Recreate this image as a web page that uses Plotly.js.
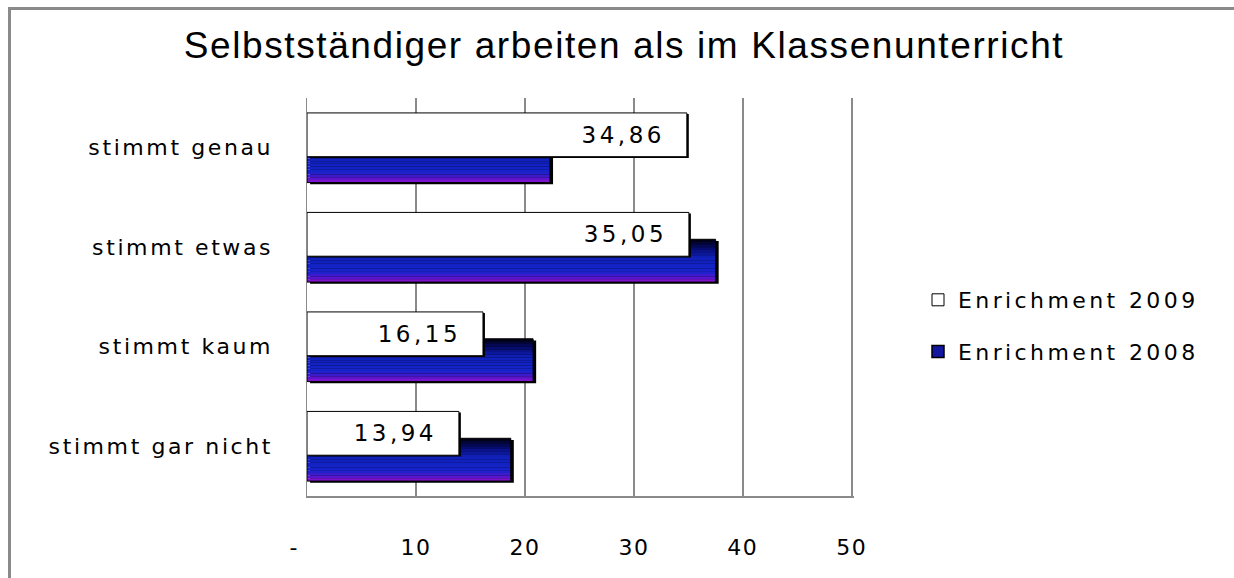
<!DOCTYPE html>
<html>
<head>
<meta charset="utf-8">
<script src="https://cdn.plot.ly/plotly-3.0.1.min.js"></script>
<style>
  html, body { margin: 0; padding: 0; background: #fff; }
  #wrap { position: relative; width: 1234px; height: 578px; overflow: hidden; }
  #chart { position: absolute; left: 0; top: 0; width: 1234px; height: 578px; }
  #frame { position: absolute; left: 8px; top: 7px; width: 1300px; height: 700px;
           border-left: 3px solid #8a8a8a; border-top: 3px solid #8a8a8a; pointer-events: none; }
  .gtitle { letter-spacing: 1.6px; }
  .ytick text { letter-spacing: 2.6px; }
  .legendtext { letter-spacing: 3.4px; }
  .xtick text { letter-spacing: 1.5px; }
  text.bartext { letter-spacing: 3.5px; }
</style>
</head>
<body>
<div id="wrap">
  <div id="chart"></div>
  <div id="frame"></div>
</div>
<script>
// ---- data ----
const categories = ["stimmt genau", "stimmt etwas", "stimmt kaum", "stimmt gar nicht"];
const values2009 = [34.86, 35.05, 16.15, 13.94];
const labels2009 = ["34,86", "35,05", "16,15", "13,94"];
const values2008 = [22.3, 37.5, 20.75, 18.7];
const seriesNames = ["Enrichment 2009", "Enrichment 2008"];
const tickValues = [0, 10, 20, 30, 40, 50];
const tickLabels = ["-\u00a0\u00a0\u00a0", "10", "20", "30", "40", "50"];

// ---- styles ----
const FONT = "DejaVu Sans, Verdana, sans-serif";
const SHADOW_X = 0.28;   // in x units (~3px)
const blueTop = 0.08, blueW = 0.43;       // relative to category centre (y up)
const whiteTop = 0.35, whiteW = 0.44;

function lerp(a, b, t) { return Math.round(a + (b - a) * t); }
function hex(c) { return [parseInt(c.slice(1,3),16), parseInt(c.slice(3,5),16), parseInt(c.slice(5,7),16)]; }
const stops = [[0, "#000008"], [0.2, "#050a68"], [0.42, "#1020b8"], [0.75, "#1424cc"], [0.88, "#4a18cc"], [1, "#8c10cc"]];
function gradColor(t) {
  for (let i = 0; i < stops.length - 1; i++) {
    if (t >= stops[i][0] && t <= stops[i+1][0]) {
      const u = (t - stops[i][0]) / (stops[i+1][0] - stops[i][0]);
      const a = hex(stops[i][1]), b = hex(stops[i+1][1]);
      return `rgb(${lerp(a[0],b[0],u)},${lerp(a[1],b[1],u)},${lerp(a[2],b[2],u)})`;
    }
  }
  return stops[stops.length-1][1];
}

const traces = [];
// shadow for 2008
traces.push({
  type: "bar", orientation: "h", y: categories, x: values2008, base: SHADOW_X,
  offset: blueTop - blueW - 0.018, width: blueW,
  marker: { color: "#000000", line: { width: 0 } },
  showlegend: false, hoverinfo: "skip"
});
// gradient strips for 2008
const N = 16;
const h = blueW / N;
for (let i = 0; i < N; i++) {
  traces.push({
    type: "bar", orientation: "h", y: categories, x: values2008,
    offset: blueTop - (i + 1) * h, width: h * 1.02,
    marker: { color: gradColor((i + 0.5) / N), line: { width: 0 } },
    showlegend: false, hoverinfo: "skip"
  });
}
// outline for 2008
traces.push({
  type: "bar", orientation: "h", y: categories, x: values2008, name: seriesNames[1],
  offset: blueTop - blueW, width: blueW,
  marker: { color: "rgba(0,0,0,0)", line: { color: "#000000", width: 1 } },
  showlegend: false, hovertemplate: "%{y}: %{x}<extra>" + seriesNames[1] + "</extra>"
});
// shadow for 2009
traces.push({
  type: "bar", orientation: "h", y: categories, x: values2009, base: 0.18,
  offset: whiteTop - whiteW - 0.012, width: whiteW,
  marker: { color: "#000000", line: { width: 0 } },
  showlegend: false, hoverinfo: "skip"
});
// 2009 white bars
traces.push({
  type: "bar", orientation: "h", y: categories, x: values2009, name: seriesNames[0],
  offset: whiteTop - whiteW, width: whiteW,
  text: labels2009.map(s => s + "\u00a0\u2009"),
  textposition: "inside", insidetextanchor: "end", constraintext: "none",
  textfont: { family: FONT, size: 23, color: "#000000" },
  marker: { color: "#ffffff", line: { color: "#000000", width: 1 } },
  showlegend: true, legendgroup: "a", legendrank: 1,
  hovertemplate: "%{y}: %{text}<extra>" + seriesNames[0] + "</extra>"
});
// legend swatch for 2008 (no drawn bars)
traces.push({
  type: "bar", orientation: "h", y: [categories[0]], x: [null], name: seriesNames[1],
  legendgroup: "b", legendrank: 2, showlegend: true, hoverinfo: "skip",
  marker: { color: "#1418a0", line: { color: "#000000", width: 1.5 } }
});

const layout = {
  width: 1234, height: 578,
  margin: { l: 307, r: 380, t: 98, b: 82, pad: 0 },
  paper_bgcolor: "#ffffff", plot_bgcolor: "#ffffff",
  barmode: "overlay",
  title: {
    text: "Selbstständiger arbeiten als im Klassenunterricht",
    font: { family: "Liberation Sans, Arial, sans-serif", size: 37, color: "#000000" },
    x: (624 - 307) / 547, xanchor: "center", xref: "paper",
    y: 1 - 45 / 578, yanchor: "middle", yref: "container"
  },
  xaxis: {
    range: [0, 50.2], tickmode: "array", tickvals: tickValues, ticktext: tickLabels,
    showgrid: true, gridcolor: "#8a8a8a", gridwidth: 1.5,
    showline: true, linecolor: "#8a8a8a", linewidth: 1.5,
    zeroline: false, ticks: "", ticklabelstandoff: 31,
    tickfont: { family: FONT, size: 22, color: "#000000" }, fixedrange: true
  },
  yaxis: {
    type: "category", categoryorder: "array", categoryarray: categories.slice().reverse(),
    range: [-0.5, 3.5],
    showgrid: false, showline: true, linecolor: "#8a8a8a", linewidth: 1.5,
    zeroline: false, ticks: "", ticklabelstandoff: 28,
    tickfont: { family: FONT, size: 22, color: "#000000" }, fixedrange: true
  },
  legend: {
    x: (918 - 307) / 547, xanchor: "left", y: (496 - 279) / 398, yanchor: "top",
    font: { family: FONT, size: 22, color: "#000000" },
    tracegroupgap: 20, itemwidth: 30, bgcolor: "rgba(0,0,0,0)",
    traceorder: "grouped"
  },
  showlegend: true
};

Plotly.newPlot("chart", traces, layout, { displayModeBar: false, staticPlot: true });
</script>
</body>
</html>
